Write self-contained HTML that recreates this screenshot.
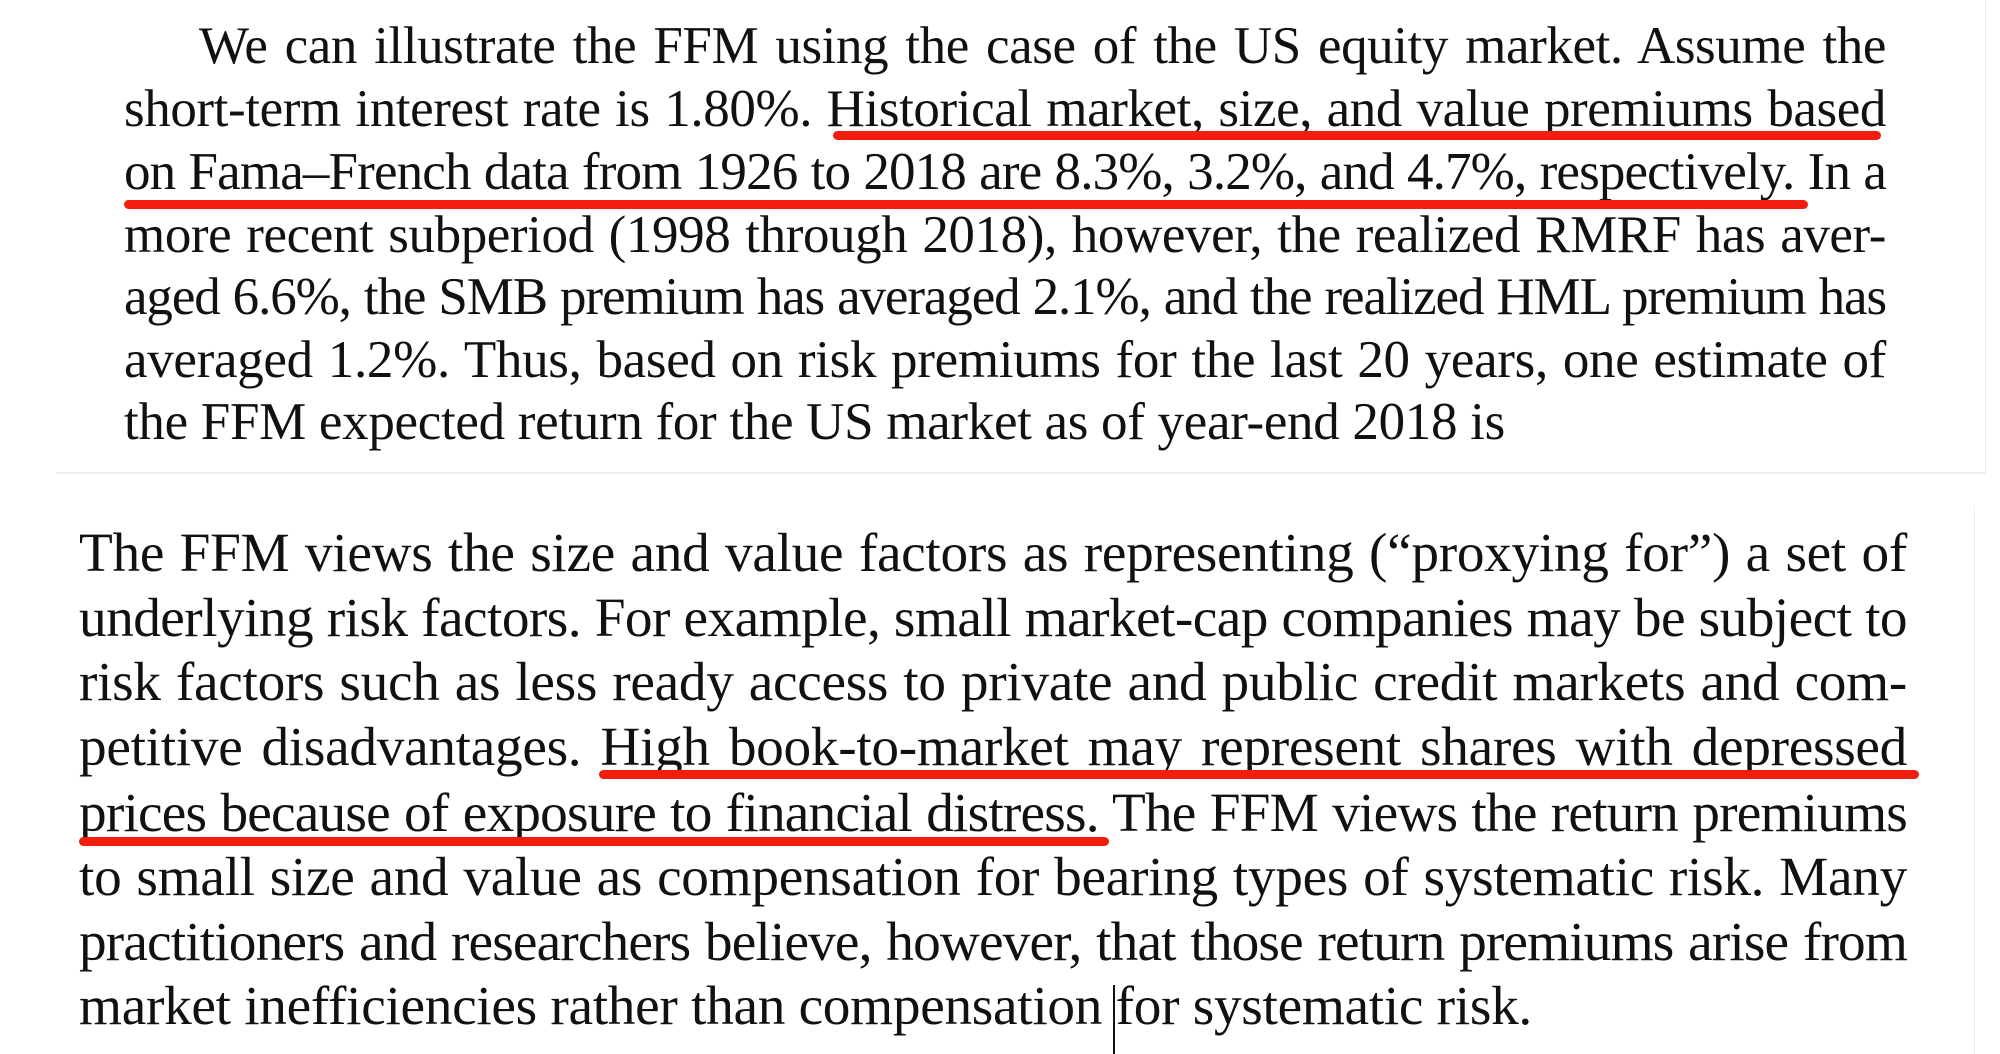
<!DOCTYPE html>
<html><head><meta charset="utf-8"><style>
html,body{margin:0;padding:0;background:#fff;}
body{width:2000px;height:1054px;position:relative;overflow:hidden;font-family:"Liberation Serif",serif;color:#111;}
.l{position:absolute;white-space:nowrap;text-align:justify;text-align-last:justify;line-height:1;}
.t{font-size:53px;left:124px;width:1762px;letter-spacing:-0.3px;}
.b{font-size:55.3px;left:79px;width:1828px;letter-spacing:-0.3px;}
.u{position:absolute;height:9px;background:#f21d0f;border-radius:5px;}
</style></head><body>
<div style="position:absolute;left:1985px;top:0;width:1px;height:472px;background:#eee"></div>
<div style="position:absolute;left:56px;top:472px;width:1930px;height:2px;background:#eee"></div>
<div style="position:absolute;left:1974px;top:505px;width:1px;height:549px;background:#eee"></div>

<div class="l t" style="top:20px;left:199px;width:1687px;letter-spacing:-0.4px">We can illustrate the FFM using the case of the US equity market. Assume the</div>
<div class="l t" style="top:83px;letter-spacing:-0.4px">short-term interest rate is 1.80%. Historical market, size, and value premiums based</div>
<div class="l t" style="top:146px;letter-spacing:-0.85px">on Fama–French data from 1926 to 2018 are 8.3%, 3.2%, and 4.7%, respectively. In a</div>
<div class="l t" style="top:209px;letter-spacing:-0.4px">more recent subperiod (1998 through 2018), however, the realized RMRF has aver-</div>
<div class="l t" style="top:271px;letter-spacing:-1.1px">aged 6.6%, the SMB premium has averaged 2.1%, and the realized HML premium has</div>
<div class="l t" style="top:334px">averaged 1.2%. Thus, based on risk premiums for the last 20 years, one estimate of</div>
<div class="l t" style="top:396px;text-align-last:left">the FFM expected return for the US market as of year-end 2018 is</div>
<div class="u" style="left:833px;top:131px;width:1048px"></div>
<div class="u" style="left:124px;top:200px;width:1684px"></div>

<div class="l b" style="top:525px">The FFM views the size and value factors as representing (“proxying for”) a set of</div>
<div class="l b" style="top:590px;letter-spacing:-0.55px">underlying risk factors. For example, small market-cap companies may be subject to</div>
<div class="l b" style="top:654px">risk factors such as less ready access to private and public credit markets and com-</div>
<div class="l b" style="top:719px">petitive disadvantages. High book-to-market may represent shares with depressed</div>
<div class="l b" style="top:785px;letter-spacing:-0.8px">prices because of exposure to financial distress. The FFM views the return premiums</div>
<div class="l b" style="top:849px">to small size and value as compensation for bearing types of systematic risk. Many</div>
<div class="l b" style="top:914px;letter-spacing:-0.85px">practitioners and researchers believe, however, that those return premiums arise from</div>
<div class="l b" style="top:978px;text-align-last:left">market inefficiencies rather than compensation for systematic risk.</div>
<div class="u" style="left:599px;top:770px;width:1320px"></div>
<div class="u" style="left:79px;top:837px;width:1030px"></div>
<div style="position:absolute;left:1113px;top:985px;width:2px;height:69px;background:#111"></div>
</body></html>
